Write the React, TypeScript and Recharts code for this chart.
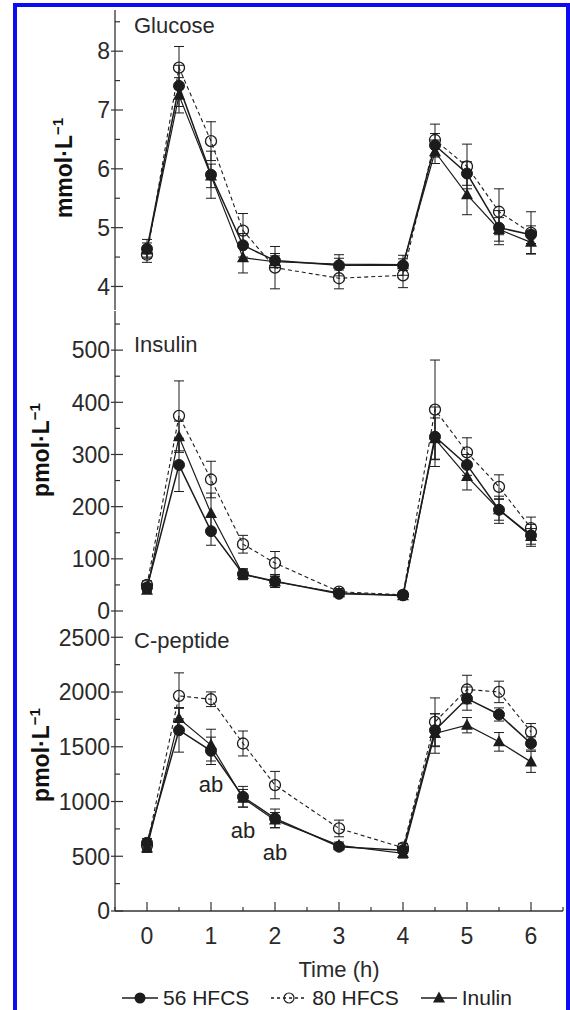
import React from 'react';
import { LineChart, Line, XAxis, YAxis, ErrorBar, Legend, LabelList } from 'recharts';

// sampling times (h)
const times = [0, 0.5, 1, 1.5, 2, 3, 4, 4.5, 5, 5.5, 6];
const xTicks = [-0.5, 0, 0.5, 1, 1.5, 2, 2.5, 3, 3.5, 4, 4.5, 5, 5.5, 6, 6.5];

const seriesNames = ['56 HFCS', '80 HFCS', 'Inulin'];

// Glucose (mmol/L), mean and SEM
const glucose56 = [4.64, 7.41, 5.9, 4.7, 4.44, 4.36, 4.36, 6.4, 5.92, 5.0, 4.88];
const glucose56Err = [0.16, 0.35, 0.4, 0.2, 0.12, 0.18, 0.17, 0.2, 0.2, 0.29, 0.15];
const glucose80 = [4.54, 7.72, 6.47, 4.95, 4.32, 4.14, 4.19, 6.49, 6.04, 5.27, 4.91];
const glucose80Err = [0.13, 0.36, 0.33, 0.29, 0.36, 0.18, 0.21, 0.27, 0.38, 0.39, 0.36];
const glucoseInulin = [4.62, 7.25, 5.88, 4.49, 4.42, 4.38, 4.37, 6.29, 5.56, 4.97, 4.75];
const glucoseInulinErr = [0.12, 0.3, 0.2, 0.26, 0.1, 0.1, 0.1, 0.2, 0.34, 0.2, 0.19];
const glucoseTicks = [4, 4.5, 5, 5.5, 6, 6.5, 7, 7.5, 8, 8.5];

// Insulin (pmol/L)
const insulin56 = [45, 280, 153, 71, 57, 33, 30, 334, 280, 194, 145];
const insulin56Err = [8, 51, 27, 10, 12, 5, 5, 57, 20, 26, 21];
const insulin80 = [50, 374, 252, 128, 92, 37, 31, 386, 304, 238, 159];
const insulin80Err = [8, 67, 35, 17, 22, 6, 6, 95, 28, 23, 21];
const insulinInulin = [40, 334, 187, 70, 56, 35, 29, 330, 258, 194, 143];
const insulinInulinErr = [6, 30, 39, 10, 10, 5, 5, 40, 26, 20, 15];
const insulinTicks = [0, 50, 100, 150, 200, 250, 300, 350, 400, 450, 500, 550];

// C-peptide (pmol/L)
const cpep56 = [623, 1651, 1463, 1043, 846, 587, 556, 1651, 1940, 1795, 1530];
const cpep56Err = [40, 200, 125, 95, 85, 30, 30, 150, 106, 60, 60];
const cpep80 = [600, 1965, 1934, 1530, 1150, 754, 578, 1727, 2023, 2001, 1636];
const cpep80Err = [40, 210, 67, 114, 125, 76, 40, 219, 130, 98, 76];
const cpepInulin = [575, 1758, 1515, 1030, 830, 600, 526, 1621, 1697, 1545, 1362];
const cpepInulinErr = [40, 100, 145, 80, 70, 30, 43, 180, 70, 85, 96];
const cpepNotes = [null, null, 'ab', 'ab', 'ab', null, null, null, null, null, null];
const cpepTicks = [0, 250, 500, 750, 1000, 1250, 1500, 1750, 2000, 2250, 2500];

const FONT = '"Liberation Sans", Arial, Helvetica, sans-serif';
const INK = '#1c1c1c';

const buildRows = (a: number[], ae: number[], b: number[], be: number[], c: number[], ce: number[], notes?: (string | null)[]) =>
  times.map((t, i) => ({
    t,
    s56: a[i], e56: ae[i],
    s80: b[i], e80: be[i],
    sIn: c[i], eIn: ce[i],
    note: notes ? notes[i] : null,
  }));

const filledCircle = (p: any) => (
  <circle key={`fc-${p.index}`} cx={p.cx} cy={p.cy} r={5.5} fill={INK} stroke={INK} strokeWidth={1} />
);
const openCircle = (p: any) => (
  <circle key={`oc-${p.index}`} cx={p.cx} cy={p.cy} r={5.5} fill="none" stroke={INK} strokeWidth={1.3} />
);
const triangle = (p: any) => (
  <polygon
    key={`tr-${p.index}`}
    points={`${p.cx},${p.cy - 6.5} ${p.cx - 6},${p.cy + 4.5} ${p.cx + 6},${p.cy + 4.5}`}
    fill={INK}
  />
);

const yTick = (step: number) => (props: any) => {
  const { x, y, payload } = props;
  const v = payload.value;
  const major = Math.abs(v / step - Math.round(v / step)) < 1e-6;
  return (
    <g>
      <line x1={major ? x - 4 : x} x2={x + (major ? 8 : 5)} y1={y} y2={y} stroke="#333" strokeWidth={1.2} />
      {major && (
        <text x={x - 5} y={y} dy="0.36em" textAnchor="end" fontSize={23} fill="#2a2a2a" fontFamily={FONT}>
          {v}
        </text>
      )}
    </g>
  );
};

const xTick = (showLabels: boolean) => (props: any) => {
  const { x, y, payload } = props;
  const v = payload.value;
  const major = Number.isInteger(v);
  return (
    <g>
      <line x1={x} x2={x} y1={y} y2={y - (major ? 9 : 4)} stroke="#333" strokeWidth={1.2} />
      {showLabels && major && (
        <text x={x} y={y + 33} textAnchor="middle" fontSize={23} fill="#2a2a2a" fontFamily={FONT}>
          {v}
        </text>
      )}
    </g>
  );
};

const panelLabel = (unit: string, title: string, unitX: number, unitDy: number, titleDy: number) => (props: any) => {
  const vb = props.viewBox;
  const ux = vb.x + unitX;
  const cy = vb.y + vb.height / 2 + unitDy;
  return (
    <g>
      <text
        x={ux}
        y={cy}
        transform={`rotate(-90, ${ux}, ${cy})`}
        textAnchor="middle"
        fontSize={23}
        fontWeight="bold"
        fill="#111"
        fontFamily={FONT}
      >
        {unit}
        <tspan dy={-9} fontSize={15}>−1</tspan>
      </text>
      <text x={vb.x + vb.width + 19} y={vb.y + titleDy} fontSize={22} fill="#2a2a2a" fontFamily={FONT}>
        {title}
      </text>
    </g>
  );
};

const timeLabel = (props: any) => {
  const vb = props.viewBox;
  return (
    <text x={vb.x + vb.width / 2} y={vb.y + 66} textAnchor="middle" fontSize={22} fill="#2a2a2a" fontFamily={FONT}>
      Time (h)
    </text>
  );
};

const legendIcon = (i: number) => (
  <svg width={36} height={16}>
    <line x1={0} x2={36} y1={8} y2={8} stroke={INK} strokeWidth={1.3} strokeDasharray={i === 1 ? '3 3' : undefined} />
    {i === 0 && <circle cx={18} cy={8} r={5.5} fill={INK} />}
    {i === 1 && <circle cx={18} cy={8} r={5} fill="none" stroke={INK} strokeWidth={1.2} />}
    {i === 2 && <polygon points="18,1.5 12,12.5 24,12.5" fill={INK} />}
  </svg>
);

const renderLegend = () => (
  <div
    style={{
      display: 'flex',
      alignItems: 'center',
      height: 24,
      paddingLeft: 117,
      fontSize: 21,
      color: '#222',
      fontFamily: FONT,
    }}
  >
    {seriesNames.map((name, i) => (
      <div key={name} style={{ display: 'flex', alignItems: 'center', marginRight: 22 }}>
        {legendIcon(i)}
        <span style={{ marginLeft: 5 }}>{name}</span>
      </div>
    ))}
  </div>
);

interface PanelProps {
  rows: any[];
  domain: [number, number];
  ticks: number[];
  step: number;
  unit: string;
  title: string;
  unitX: number;
  unitDy: number;
  titleDy: number;
  top: number;
  bottom?: boolean;
}

const Panel: React.FC<PanelProps> = ({ rows, domain, ticks, step, unit, title, unitX, unitDy, titleDy, top, bottom }) => (
  <div style={{ position: 'absolute', left: 0, top }}>
    <LineChart
      width={570}
      height={bottom ? 409 : 340}
      data={rows}
      margin={{ top: 10, right: 7, bottom: bottom ? 0 : 30, left: 5 }}
    >
      <XAxis
        type="number"
        dataKey="t"
        domain={[-0.5, 6.5]}
        allowDataOverflow
        ticks={xTicks}
        interval={0}
        height={bottom ? 75 : 0}
        tickSize={0}
        tickMargin={0}
        tickLine={false}
        tick={xTick(!!bottom)}
        axisLine={{ stroke: '#333', strokeWidth: 1.3 }}
        label={bottom ? { content: timeLabel } : undefined}
      />
      <YAxis
        type="number"
        domain={domain}
        allowDataOverflow
        ticks={ticks}
        interval={0}
        width={110}
        tickSize={0}
        tickMargin={0}
        tickLine={false}
        tick={yTick(step)}
        axisLine={{ stroke: '#333', strokeWidth: 1.3 }}
        label={{ content: panelLabel(unit, title, unitX, unitDy, titleDy) }}
      />
      <Line dataKey="sIn" type="linear" stroke={INK} strokeWidth={1.2} dot={triangle} isAnimationActive={false}>
        <ErrorBar dataKey="eIn" direction="y" width={5} stroke={INK} strokeWidth={1} />
      </Line>
      <Line dataKey="s80" type="linear" stroke={INK} strokeWidth={1.1} strokeDasharray="4 3" dot={openCircle} isAnimationActive={false}>
        <ErrorBar dataKey="e80" direction="y" width={5} stroke={INK} strokeWidth={1} />
      </Line>
      <Line dataKey="s56" type="linear" stroke={INK} strokeWidth={1.5} dot={filledCircle} isAnimationActive={false}>
        <ErrorBar dataKey="e56" direction="y" width={5} stroke={INK} strokeWidth={1} />
        {bottom && (
          <LabelList dataKey="note" position="bottom" offset={26} fontSize={22} fill="#222" fontFamily={FONT} />
        )}
      </Line>
      {bottom && <Legend verticalAlign="bottom" content={renderLegend} />}
    </LineChart>
  </div>
);

export default function App() {
  const glucoseRows = buildRows(glucose56, glucose56Err, glucose80, glucose80Err, glucoseInulin, glucoseInulinErr);
  const insulinRows = buildRows(insulin56, insulin56Err, insulin80, insulin80Err, insulinInulin, insulinInulinErr);
  const cpepRows = buildRows(cpep56, cpep56Err, cpep80, cpep80Err, cpepInulin, cpepInulinErr, cpepNotes);

  return (
    <div
      style={{
        position: 'absolute',
        left: 0,
        top: 0,
        width: 570,
        height: 1010,
        overflow: 'hidden',
        background: '#fff',
        fontFamily: FONT,
      }}
    >
      <div
        style={{
          position: 'absolute',
          left: 13,
          top: 3,
          width: 557,
          height: 1030,
          boxSizing: 'border-box',
          border: '4px solid #0c0cf2',
        }}
      />
      <Panel rows={glucoseRows} domain={[3.6, 8.7]} ticks={glucoseTicks} step={1} unit="mmol·L" title="Glucose"
        unitX={67} unitDy={8} titleDy={23} top={0} />
      <Panel rows={insulinRows} domain={[0, 575]} ticks={insulinTicks} step={100} unit="pmol·L" title="Insulin"
        unitX={44} unitDy={-11} titleDy={41} top={301} />
      <Panel rows={cpepRows} domain={[0, 2740]} ticks={cpepTicks} step={500} unit="pmol·L" title="C-peptide"
        unitX={44} unitDy={-6} titleDy={37} top={601} bottom />
    </div>
  );
}
